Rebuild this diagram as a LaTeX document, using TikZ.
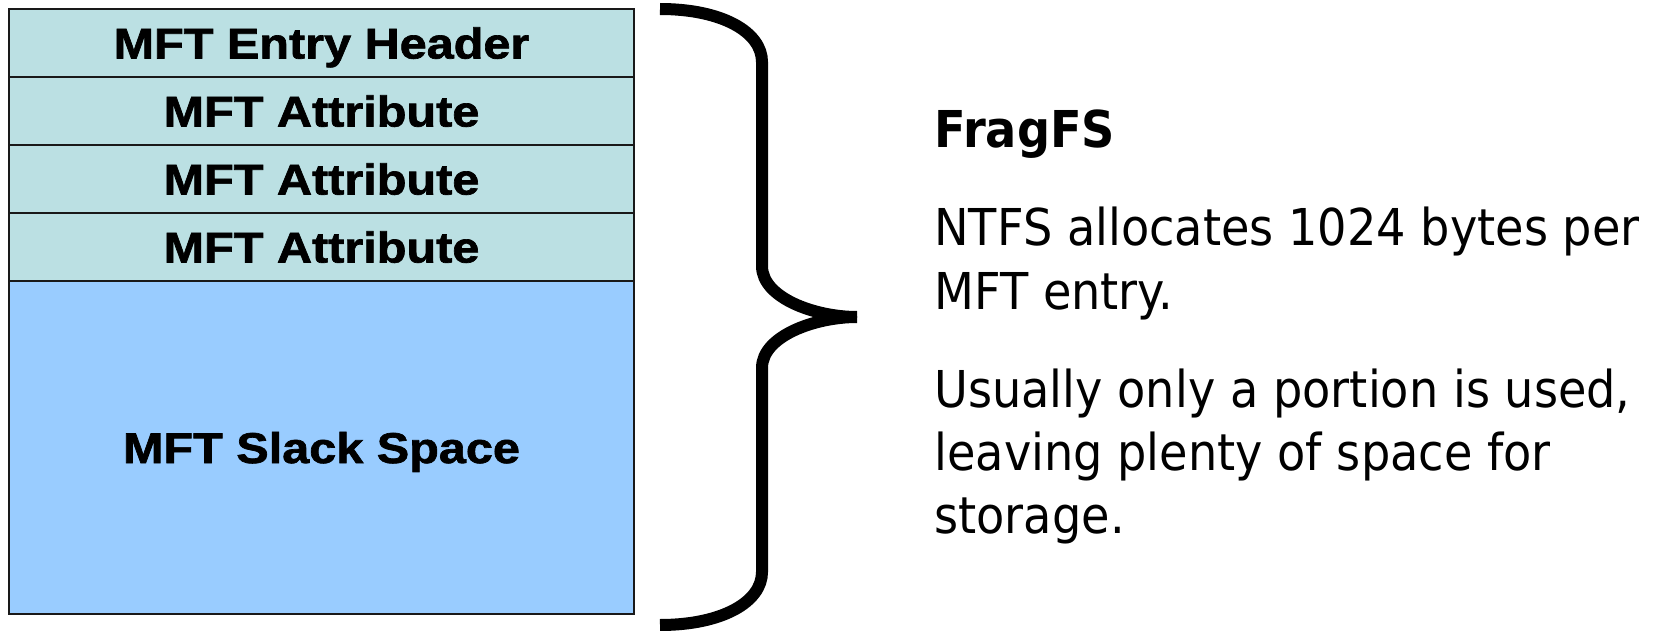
\documentclass[tikz,border=0pt]{standalone}
\usepackage{fontspec}
\newfontfamily\boxfont[FakeStretch=1.13, BoldFeatures={FakeBold=1.6}]{Liberation Sans}
\newfontfamily\notefont[FakeStretch=0.91]{DejaVu Sans}
\usetikzlibrary{positioning}
\definecolor{rowcyan}{HTML}{BBE0E3}
\definecolor{slackblue}{HTML}{99CCFF}
\tikzset{
  mftrow/.style={rectangle, draw=black!90, line width=0.8pt, fill=rowcyan, minimum width=312.5pt, minimum height=34pt, inner sep=0pt, outer sep=0pt, font=\boxfont\bfseries\fontsize{21.5pt}{26pt}\selectfont, text height=15.5pt, text depth=0pt},
  slack/.style={mftrow, fill=slackblue, minimum height=166.5pt},
  note/.style={anchor=base west, inner sep=0pt, font=\notefont\fontsize{25.4pt}{31.5pt}\selectfont},
  brace/.style={line width=6pt, line cap=butt}
}
\begin{document}
\begin{tikzpicture}[x=0.5pt, y=-0.5pt]
  \useasboundingbox (0,0) rectangle (1665,631);

  % MFT entry: header, attributes, slack
  \node[mftrow] (hdr) at (321.5,43) {MFT Entry Header};
  \node[mftrow, below=0pt of hdr] (attr1) {MFT Attribute};
  \node[mftrow, below=0pt of attr1] (attr2) {MFT Attribute};
  \node[mftrow, below=0pt of attr2] (attr3) {MFT Attribute};
  \node[slack, below=0pt of attr3] (slk) {MFT Slack Space};

  % Brace over the whole entry
  \coordinate (btop) at (660,9);
  \coordinate (btip) at (857,317);
  \coordinate (bbot) at (660,625);
  \draw[brace] (btop) .. controls (722,9) and (762,32) .. (762,62) -- (762,266) .. controls (762,298) and (815,317) .. (btip);
  \draw[brace] (btip) .. controls (815,317) and (762,336) .. (762,368) -- (762,572) .. controls (762,602) and (722,625) .. (bbot);

  % Notes
  \node[note, font=\notefont\bfseries\fontsize{25.4pt}{31.5pt}\selectfont] (title) at (934,148) {FragFS};
  \node[note] (n1) at (934,245) {NTFS allocates 1024 bytes per};
  \node[note] (n2) at (934,309) {MFT entry.};
  \node[note] (u1) at (934,407) {Usually only a portion is used,};
  \node[note] (u2) at (934,470) {leaving plenty of space for};
  \node[note] (u3) at (934,533) {storage.};
\end{tikzpicture}
\end{document}
